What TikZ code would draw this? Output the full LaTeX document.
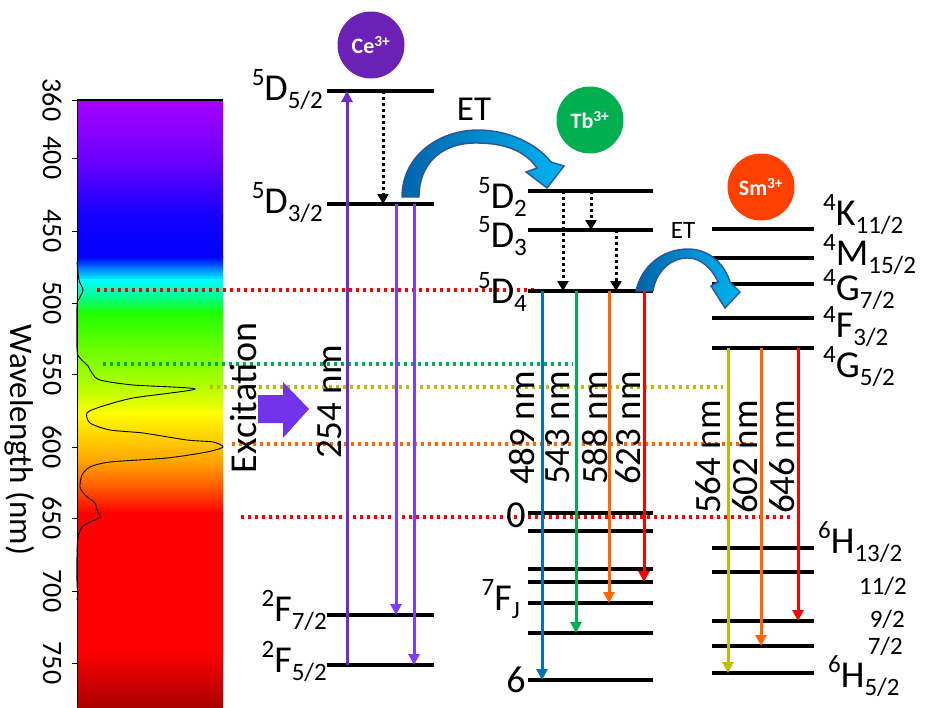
\documentclass[tikz,border=0pt]{standalone}
\usepackage{fontspec}
\setmainfont{Carlito}
\usetikzlibrary{arrows.meta, positioning}

\definecolor{cePurple}{RGB}{107,33,181}
\definecolor{ceUp}{RGB}{112,44,200}
\definecolor{ceDown}{RGB}{125,60,255}
\definecolor{tbGreen}{RGB}{0,176,80}
\definecolor{smRed}{RGB}{255,64,0}
\definecolor{emBlue}{RGB}{0,112,192}
\definecolor{emOrange}{RGB}{255,102,0}
\definecolor{emYellow}{RGB}{190,190,0}
\definecolor{etDark}{RGB}{0,100,170}
\definecolor{etLight}{RGB}{0,180,240}
\definecolor{etEdge}{RGB}{47,85,151}
\definecolor{excite}{RGB}{115,50,235}
% spectrum stops
\definecolor{sA}{RGB}{165,0,255}
\definecolor{sB}{RGB}{110,0,255}
\definecolor{sC}{RGB}{20,0,255}
\definecolor{sD}{RGB}{0,0,255}
\definecolor{sE}{RGB}{0,120,255}
\definecolor{sF}{RGB}{0,255,255}
\definecolor{sG}{RGB}{0,255,140}
\definecolor{sH}{RGB}{30,255,0}
\definecolor{sI}{RGB}{110,255,0}
\definecolor{sJ}{RGB}{175,255,0}
\definecolor{sK}{RGB}{255,255,0}
\definecolor{sL}{RGB}{255,160,0}
\definecolor{sM}{RGB}{255,80,0}
\definecolor{sN}{RGB}{255,0,0}
\definecolor{sO}{RGB}{255,0,0}
\definecolor{sP}{RGB}{170,0,0}

\newcommand{\term}[3]{{\fontsize{25}{25}\selectfont\raisebox{15pt}{#1}}#2{\fontsize{25}{25}\selectfont\raisebox{-8pt}{#3}}}

\begin{document}
\begin{tikzpicture}[x=1pt, y=-1pt,
            lvl/.style={line width=3.6pt},
            relax/.style={line width=3pt, dash pattern=on 3pt off 3pt,
                          -{Triangle[length=10pt, width=11pt]}},
            emit/.style={line width=3pt, -{Triangle[length=11pt, width=11pt]}},
            guide/.style={line width=3.2pt, dash pattern=on 3.4pt off 3.6pt},
            ion/.style={circle, minimum size=67pt, inner sep=0pt, text=white,
                        font=\fontsize{22}{22}\selectfont\bfseries},
            lab/.style={inner sep=0pt, font=\fontsize{38}{40}\selectfont},
            nm/.style={rotate=90, inner sep=0pt, font=\fontsize{37}{40}\selectfont},
            tick/.style={rotate=-90, inner sep=0pt, font=\fontsize{28}{30}\selectfont},
            etarrow/.style={left color=etDark, right color=etLight, draw=etEdge, line width=1.4pt}
        ]
            \useasboundingbox (0,0) rectangle (926,707);

            % spectrum bar
            \foreach \ya/\ca/\yb/\cb in {100/sA/158/sB, 158/sB/216/sC, 216/sC/257/sD,
                    257/sD/268/sE, 268/sE/280/sF, 280/sF/297/sG, 297/sG/313/sH,
                    313/sH/350/sI, 350/sI/385/sJ, 385/sJ/413/sK, 413/sK/463/sL,
                    463/sL/490/sM, 490/sM/513/sN, 513/sN/650/sO, 650/sO/707/sP}
                \shade[top color=\ca, bottom color=\cb] (77,\ya-0.4) rectangle (223,\yb+0.4);
            \draw[line width=1.5pt] (77,100) -- (223,100);
            \draw[line width=0.8pt] (77,100) -- (77,707);
            \foreach \wl/\y in {360/100, 400/158, 450/231, 500/303, 550/374,
                                600/447, 650/518, 700/591, 750/663} {
                \draw[line width=0.8pt] (72,\y) -- (77,\y);
                \node[tick] (t\wl) at (52,\y) {\wl};
            }
            \node[rotate=-90, inner sep=0pt, font=\fontsize{33}{36}\selectfont] (axis) at (20,440) {Wavelength (nm)};

            % emission spectrum
            \draw[line width=0.9pt] plot[smooth, tension=0.45] coordinates {
                (77,262) (79,280) (83,290) (79,299) (77,305) (77,350) (80,358)
                (88,366) (92,373) (100,380) (133,385) (195,389) (133,398)
                (100,407) (87,413) (90,423) (110,430) (143,433) (187,440)
                (213,442) (223,447) (207,452) (167,458) (110,462) (90,467)
                (82,475) (80,487) (85,495) (95,503) (97,510) (100,517) (90,522)
                (82,527) (78,537) (77,553) (77,585) (78,592) (77,600)};

            % guide lines
            \draw[guide, red] (97,290) -- (538,290);
            \draw[guide, tbGreen] (103,364) -- (573,364);
            \draw[guide, emYellow] (210,387) -- (723,387);
            \draw[guide, emOrange] (232,444) -- (757,444);
            \draw[guide, red] (241,517) -- (793,517);

            % energy levels
            \foreach \nm/\y in {ceD52/91, ceD32/204, ceF72/615, ceF52/665}
                \draw[lvl] (327,\y) coordinate (\nm) -- ++(107,0);
            \foreach \nm/\y in {tbD2/191, tbD3/230, tbD4/291, tbF0/513, tbF1/531,
                                tbF2/569, tbF3/582, tbF4/603, tbF5/633, tbF6/680}
                \draw[lvl] (528,\y) coordinate (\nm) -- ++(125,0);
            \foreach \nm/\y in {smK/229, smM/258, smG72/284, smF/318, smG52/348,
                                smH13/548, smH11/572, smH9/621, smH7/646, smH5/673}
                \draw[lvl] (712,\y) coordinate (\nm) -- ++(102,0);

            % Ce transitions
            \draw[emit, ceUp] ([xshift=20pt]ceF52) -- ([xshift=20pt]ceD52);
            \draw[relax] ([xshift=56pt]ceD52) -- ([xshift=56pt]ceD32);
            \draw[emit, ceDown] ([xshift=69pt]ceD32) -- ([xshift=69pt]ceF72);
            \draw[emit, ceDown] ([xshift=87pt]ceD32) -- ([xshift=87pt]ceF52);

            % Tb transitions
            \draw[relax] ([xshift=35pt]tbD2) -- ([xshift=35pt]tbD4);
            \draw[relax] ([xshift=63pt]tbD2) -- ([xshift=63pt]tbD3);
            \draw[relax] ([xshift=88pt]tbD3) -- ([xshift=88pt]tbD4);
            \draw[emit, emBlue] ([xshift=14pt]tbD4) -- ([xshift=14pt]tbF6);
            \draw[emit, tbGreen] ([xshift=48pt]tbD4) -- ([xshift=48pt]tbF5);
            \draw[emit, emOrange] ([xshift=81pt]tbD4) -- ([xshift=81pt]tbF4);
            \draw[emit, red] ([xshift=116pt]tbD4) -- ([xshift=116pt]tbF3);

            % Sm transitions
            \draw[emit, emYellow] ([xshift=16pt]smG52) -- ([xshift=16pt]smH5);
            \draw[emit, emOrange] ([xshift=49pt]smG52) -- ([xshift=49pt]smH7);
            \draw[emit, red] ([xshift=86pt]smG52) -- ([xshift=86pt]smH9);

            % energy transfer arrows
            \shade[etarrow] (402,197) .. controls (402,155) and (440,130) .. (478,130)
                .. controls (510,130) and (538,145) .. (551,162) -- (564,166) -- (547,188)
                -- (526,172) -- (537,168) .. controls (525,151) and (505,143) .. (476,143)
                .. controls (440,143) and (419,165) .. (419,197) -- cycle;
            \shade[etarrow] (636,291) .. controls (641,267) and (662,249) .. (688,249)
                .. controls (710,249) and (725,265) .. (730,282) -- (740,292) -- (725,308)
                -- (711,286) -- (718,282) .. controls (712,268) and (700,258) .. (688,258)
                .. controls (670,258) and (656,272) .. (653,291) -- cycle;
            \node[inner sep=0pt, font=\fontsize{35}{36}\selectfont] (et1) at (474,109) {ET};
            \node[inner sep=0pt, font=\fontsize{25}{26}\selectfont] (et2) at (683,230) {ET};

            % excitation
            \fill[excite] (258,395) -- (283,395) -- (283,382) -- (309,409) -- (283,438)
                -- (283,423) -- (258,423) -- cycle;
            \node[nm, font=\fontsize{38}{40}\selectfont] (exc) at (243,398) {Excitation};

            % level labels
            \node[lab, anchor=base east] (lD52) at (323,100) {\term{5}{D}{5/2}};
            \node[lab, anchor=base east] (lD32) at (323,213) {\term{5}{D}{3/2}};
            \node[lab, anchor=base east] (lF72) at (327,621) {\term{2}{F}{7/2}};
            \node[lab, anchor=base east] (lF52) at (327,672) {\term{2}{F}{5/2}};
            \node[lab, anchor=base east] (lD2) at (527,208) {\term{5}{D}{2}};
            \node[lab, anchor=base east] (lD3) at (527,247) {\term{5}{D}{3}};
            \node[lab, anchor=base east] (lD4) at (527,303) {\term{5}{D}{4}};
            \node[lab, anchor=base east] (lFJ) at (520,610) {\term{7}{F}{J}};
            \node[lab] (lF0) at (516,515) {0};
            \node[lab] (lF6) at (516,680) {6};
            \node[lab, anchor=base west] (lK) at (823,225) {\term{4}{K}{11/2}};
            \node[lab, anchor=base west] (lM) at (823,265) {\term{4}{M}{15/2}};
            \node[lab, anchor=base west] (lG72) at (823,300) {\term{4}{G}{7/2}};
            \node[lab, anchor=base west] (lF32) at (823,337) {\term{4}{F}{3/2}};
            \node[lab, anchor=base west] (lG52) at (823,377) {\term{4}{G}{5/2}};
            \node[lab, anchor=base west] (lH13) at (818,553) {\term{6}{H}{13/2}};
            \node[inner sep=0pt, anchor=base east, font=\fontsize{25}{25}\selectfont] (lH11) at (907,594) {11/2};
            \node[inner sep=0pt, anchor=base east, font=\fontsize{25}{25}\selectfont] (lH9) at (905,627) {9/2};
            \node[inner sep=0pt, anchor=base east, font=\fontsize{25}{25}\selectfont] (lH7) at (903,654) {7/2};
            \node[lab, anchor=base west] (lH5) at (828,687) {\term{6}{H}{5/2}};

            % wavelength labels
            \node[nm] (w254) at (330,402) {254 nm};
            \node[nm] (w489) at (522,428) {489 nm};
            \node[nm] (w543) at (558,428) {543 nm};
            \node[nm] (w588) at (595,428) {588 nm};
            \node[nm] (w623) at (628,428) {623 nm};
            \node[nm] (w564) at (708,457) {564 nm};
            \node[nm] (w602) at (745,457) {602 nm};
            \node[nm] (w646) at (782,457) {646 nm};

            % ions
            \node[ion, fill=cePurple] (ce) at (371,45) {Ce\textsuperscript{3+}};
            \node[ion, fill=tbGreen] (tb) at (590,120) {Tb\textsuperscript{3+}};
            \node[ion, fill=smRed] (sm) at (761,187) {Sm\textsuperscript{3+}};
        \end{tikzpicture}
\end{document}
